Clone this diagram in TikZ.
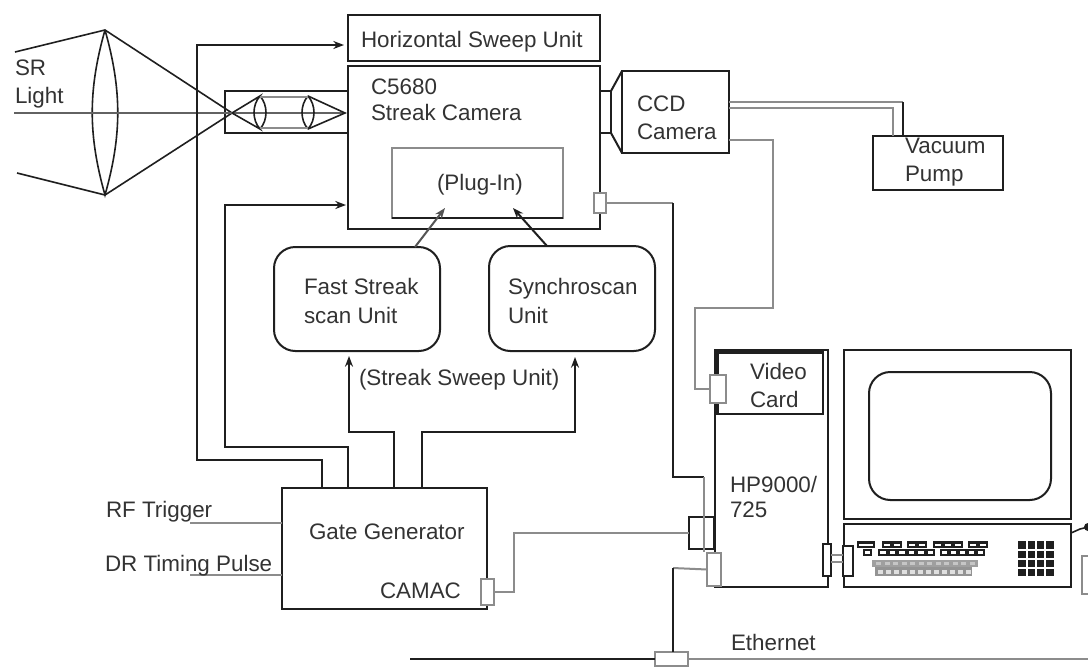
\documentclass[tikz,border=0pt]{standalone}
\usepackage{fontspec}
\setmainfont{Liberation Sans}
\usetikzlibrary{arrows.meta,calc}
\definecolor{ink}{gray}{0.12}
\definecolor{txt}{gray}{0.2}
\definecolor{soft}{gray}{0.55}
\tikzset{
  box/.style={draw=ink,line width=1.5pt,inner sep=0pt,outer sep=0pt,fill=white},
  softbox/.style={draw=soft,line width=1.5pt,inner sep=0pt,outer sep=0pt,fill=white},
  roundbox/.style={box,rounded corners=16pt},
  portbox/.style={draw=soft,line width=1.2pt,inner sep=0pt,outer sep=0pt,fill=white},
  wire/.style={draw=ink,line width=1.5pt},
  softwire/.style={draw=soft,line width=1.5pt},
  thin ray/.style={draw=ink,line width=1.2pt},
  arrowed/.style={-{Stealth[length=8pt,width=6pt]}},
  lbl/.style={inner sep=0pt,outer sep=0pt,anchor=base west,text=txt,font=\fontsize{16.8pt}{20pt}\selectfont},
  keyrow/.style={fill=ink,draw=none},
}
\newcommand\bx[6]{\node[#6,anchor=north west,minimum width={(#4-#2)*0.75pt},minimum height={(#5-#3)*0.75pt}] (#1) at (#2,#3) {};}
\begin{document}
\begin{tikzpicture}[x=0.75pt,y=-0.75pt]
\path[use as bounding box,fill=white] (0,0) rectangle (1088,668);
% optics
\bx{relay}{225}{91}{348}{133}{box}
\coordinate (srtop) at (15,52);
\coordinate (srbot) at (17,173);
\coordinate (lenstop) at (105,30);
\coordinate (lensbot) at (105,195);
\coordinate (focus) at (232,113);
\coordinate (axisin) at (14,113);
\coordinate (axisout) at (345,113);
\draw[thin ray] (srtop) -- (lenstop) -- (focus) -- (lensbot) -- (srbot);
\draw[thin ray] (lenstop) .. controls (88,90) and (88,135) .. (lensbot) .. controls (122,135) and (122,90) .. (lenstop);
\draw[soft!70!black,line width=1.4pt] (axisin) -- (axisout);
\draw[thin ray] (focus) -- (260,96) .. controls (252,105) and (252,120) .. (260,129) -- (focus);
\draw[thin ray] (260,96) .. controls (268,105) and (268,120) .. (260,129);
\draw[thin ray] (308,96) .. controls (300,105) and (300,120) .. (308,129);
\draw[thin ray] (308,96) .. controls (316,105) and (316,120) .. (308,129);
\draw[thin ray] (308,96) -- (axisout) -- (308,129);
\draw[soft,line width=1pt] (260,97) -- (308,97);
\draw[soft,line width=2pt] (260,128) -- (308,128);
% main boxes
\bx{hsweep}{348}{15}{600}{61}{box}
\bx{streak}{348}{66}{600}{229}{box}
\bx{plugin}{392}{148}{563}{218}{softbox}
\draw[wire] (plugin.south west) -- (plugin.south east);
\bx{fast}{274}{247}{440}{351}{roundbox}
\bx{synchro}{489}{246}{655}{351}{roundbox}
\bx{gate}{282}{488}{487}{609}{box}
\bx{ccd}{622}{71}{729}{153}{box}
\bx{adapter}{600}{91}{611}{133}{box}
\draw[wire] (adapter.north east) -- (ccd.north west);
\draw[wire] (adapter.south east) -- (ccd.south west);
\bx{vacuum}{873}{136}{1003}{190}{box}
\bx{hp}{715}{350}{828}{587}{box}
\bx{video}{717}{352}{823}{414}{box}
\draw[ink,line width=3pt] (717,352) -- (823,352);
\draw[ink,line width=3pt] (717,352) -- (717,414);
\bx{monitor}{844}{350}{1071}{519}{box}
\bx{screen}{869}{372}{1051}{500}{roundbox}
\bx{kbd}{844}{524}{1071}{587}{box}
% ports
\bx{pstreak}{594}{193}{606}{213}{portbox}
\bx{pcamac}{481}{579}{494}{605}{portbox}
\bx{phpa}{689}{517}{714}{549}{box}
\bx{phpb}{707}{553}{721}{586}{portbox}
\bx{pvideo}{710}{375}{726}{403}{portbox}
\bx{phpr}{823}{544}{831}{576}{box}
\bx{pkbd}{843}{546}{853}{576}{box}
\bx{pnet}{655}{652}{688}{666}{portbox}
\bx{mouse}{1082}{556}{1104}{594}{softbox}
% connectors
\draw[wire,arrowed] ($(gate.north west)+(40,0)$) -- (322,460) -- (197,460) -- (197,45) -- ($(hsweep.south west)+(-4,-16)$);
\draw[wire,arrowed] ($(gate.north west)+(66,0)$) -- (348,447) -- (225,447) -- (225,205) -- ($(streak.south west)+(-2,-24)$);
\draw[wire,arrowed] ($(gate.north west)+(112,0)$) -- (394,432) -- (349,432) -- ($(fast.south west)+(75,5)$);
\draw[wire,arrowed] ($(gate.north west)+(140,0)$) -- (422,432) -- (575,432) -- ($(synchro.south west)+(86,6)$);
\draw[soft!60!black,line width=1.5pt,arrowed] ($(fast.north west)+(141,0)$) -- ($(plugin.south west)+(53,-10)$);
\draw[ink,line width=1.5pt,arrowed] ($(synchro.north west)+(58,0)$) -- ($(plugin.south west)+(121,-10)$);
\coordinate (rfend) at (190,523);
\coordinate (drend) at (190,575);
\draw[softwire] (rfend) -- (rfend -| gate.west);
\draw[softwire] (drend) -- (drend -| gate.west);
\draw[softwire] (pcamac.east) -- (514,592) -- (514,533) -- (phpa.west);
\draw[wire] (ccd.north east |- 0,102) -- (903,102);
\draw[softwire] (ccd.north east |- 0,102) -- (903,102);
\draw[wire] (903,102) -- (903,136);
\draw[softwire] (ccd.north east |- 0,108) -- (893,108) -- (893,136);
\draw[soft,line width=2pt] (ccd.north east |- 0,140) -- (773,140) -- (773,308) -- (695,308) -- (695,389) -- (pvideo.west);
\draw[softwire] (pstreak.east) -- (673,203);
\draw[wire] (673,203) -- (673,477) -- (704,477);
\draw[softwire] (704,477) -- (704,517);
\draw[softwire] (704,517) -- (704,552);
\draw[softwire] (phpb.west) -- (673,568);
\draw[wire] (673,568) -- (pnet.north -| 673,0);
\coordinate (netleft) at (410,659);
\coordinate (netright) at (1088,659);
\draw[wire] (netleft) -- (pnet.west);
\draw[softwire] (pnet.east) -- (netright);
\draw[softwire] (831,555) -- (843,555);
\draw[softwire] (831,562) -- (843,562);
\coordinate (mousehead) at (1088,527);
\draw[thin ray] (1071,533) -- (1080,529) -- (mousehead);
\fill[ink] (mousehead) circle (4);
% keyboard keys
\foreach \a/\b in {857/875,882/902,907/927,933/963,968/988}{
  \fill[ink] (\a,541) rectangle (\b,548);
  \pgfmathsetmacro\n{int((\b-\a)/10)}
  \foreach \k in {1,...,\n}{
    \pgfmathsetmacro\w{(\b-\a)/\n}
    \fill[white] ({\a+(\k-1)*\w+2},543.5) rectangle ({\a+\k*\w-2},546);
  }
}
\foreach \a/\b in {863/872,878/935,940/985}{
  \fill[ink] (\a,549) rectangle (\b,556);
  \pgfmathsetmacro\n{int((\b-\a)/9)}
  \foreach \k in {1,...,\n}{
    \pgfmathsetmacro\w{(\b-\a)/\n}
    \fill[white] ({\a+(\k-1)*\w+2},551) rectangle ({\a+\k*\w-2},553.5);
  }
}
\fill[gray!75] (872,560) rectangle (978,567);
\fill[gray!85] (875,567) rectangle (972,576);
\foreach \i in {0,...,11}{
  \fill[gray!25] ({878+\i*8},569.5) rectangle ({883+\i*8},574);
  \fill[gray!45] ({876+\i*8.5},562) rectangle ({881+\i*8.5},565);
}
\fill[ink] (1018,541) rectangle (1054,576);
\foreach \u in {1027,1036,1045}{\draw[white,line width=0.8pt] (\u,541) -- (\u,576);}
\foreach \v in {550,559,568}{\draw[white,line width=0.8pt] (1018,\v) -- (1054,\v);}
% labels
\node[lbl] (t1) at (361,47) {Horizontal Sweep Unit};
\node[lbl] (t2) at (371,94) {C5680};
\node[lbl] (t3) at (371,120) {Streak Camera};
\node[lbl] (t4) at (437,190) {(Plug-In)};
\node[lbl] (t5) at (304,294) {Fast Streak};
\node[lbl] (t6) at (304,323) {scan Unit};
\node[lbl] (t7) at (508,294) {Synchroscan};
\node[lbl] (t8) at (508,323) {Unit};
\node[lbl] (t9) at (359,385) {(Streak Sweep Unit)};
\node[lbl] (t10) at (309,539) {Gate Generator};
\node[lbl] (t11) at (380,598) {CAMAC};
\node[lbl] (t12) at (106,517) {RF Trigger};
\node[lbl] (t13) at (105,571) {DR Timing Pulse};
\node[lbl] (t14) at (731,650) {Ethernet};
\node[lbl] (t15) at (730,492) {HP9000/};
\node[lbl] (t16) at (730,517) {725};
\node[lbl] (t17) at (750,379) {Video};
\node[lbl] (t18) at (750,407) {Card};
\node[lbl] (t19) at (637,111) {CCD};
\node[lbl] (t20) at (637,139) {Camera};
\node[lbl] (t21) at (905,153) {Vacuum};
\node[lbl] (t22) at (905,181) {Pump};
\node[lbl] (t23) at (15,75) {SR};
\node[lbl] (t24) at (15,103) {Light};
\end{tikzpicture}
\end{document}
